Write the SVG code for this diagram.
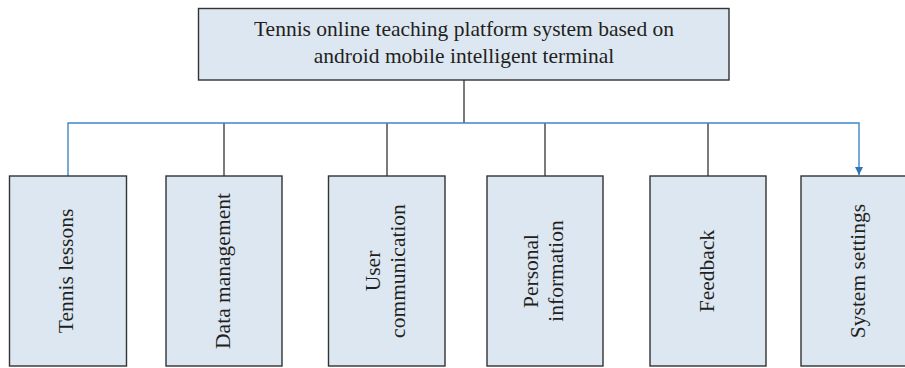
<svg xmlns="http://www.w3.org/2000/svg" width="905" height="368" viewBox="0 0 905 368">
<style>
.box{fill:#dde7f2;stroke:#333;stroke-width:1.4}
.t{font-family:"Liberation Serif","Times New Roman",serif;font-size:21.5px;fill:#231f20;text-anchor:middle}
.k{stroke:#333;stroke-width:1.3;fill:none}
.b{stroke:#3f86c8;stroke-width:1.4;fill:none}
</style>
<defs>
<marker id="ah" markerWidth="10" markerHeight="10" refX="8" refY="4" orient="auto" markerUnits="userSpaceOnUse">
<path d="M0,0 L8,4 L0,8 Z" fill="#2e75b6"/>
</marker>
</defs>
<rect width="905" height="368" fill="#fff"/>
<g id="connectors">
<line class="k" x1="464" y1="80" x2="464" y2="123"/>
<line class="k" x1="224" y1="123" x2="224" y2="176"/>
<line class="k" x1="387" y1="123" x2="387" y2="176"/>
<line class="k" x1="545" y1="123" x2="545" y2="176"/>
<line class="k" x1="708" y1="123" x2="708" y2="176"/>
<path class="b" d="M68,176 V123 H859 V175" marker-end="url(#ah)"/>
</g>
<g id="root">
<rect class="box" x="198.5" y="8.5" width="530.5" height="71.5"/>
<text class="t" x="464" y="36">Tennis online teaching platform system based on</text>
<text class="t" x="464" y="63">android mobile intelligent terminal</text>
</g>
<g id="n1">
<rect class="box" x="9.5" y="176" width="117" height="190"/>
<text class="t" transform="translate(73,271) rotate(-90)">Tennis lessons</text>
</g>
<g id="n2">
<rect class="box" x="166" y="176" width="116" height="190"/>
<text class="t" transform="translate(229.5,271) rotate(-90)">Data management</text>
</g>
<g id="n3">
<rect class="box" x="328.5" y="176" width="116.5" height="190"/>
<text class="t" transform="translate(379.5,271) rotate(-90)">User</text>
<text class="t" transform="translate(404.5,271) rotate(-90)">communication</text>
</g>
<g id="n4">
<rect class="box" x="487" y="176" width="116" height="190"/>
<text class="t" transform="translate(538,271) rotate(-90)">Personal</text>
<text class="t" transform="translate(563,271) rotate(-90)">information</text>
</g>
<g id="n5">
<rect class="box" x="650" y="176" width="116" height="190"/>
<text class="t" transform="translate(713.5,271) rotate(-90)">Feedback</text>
</g>
<g id="n6">
<rect class="box" x="801" y="176" width="117" height="190"/>
<text class="t" transform="translate(865,271) rotate(-90)">System settings</text>
</g>
</svg>
